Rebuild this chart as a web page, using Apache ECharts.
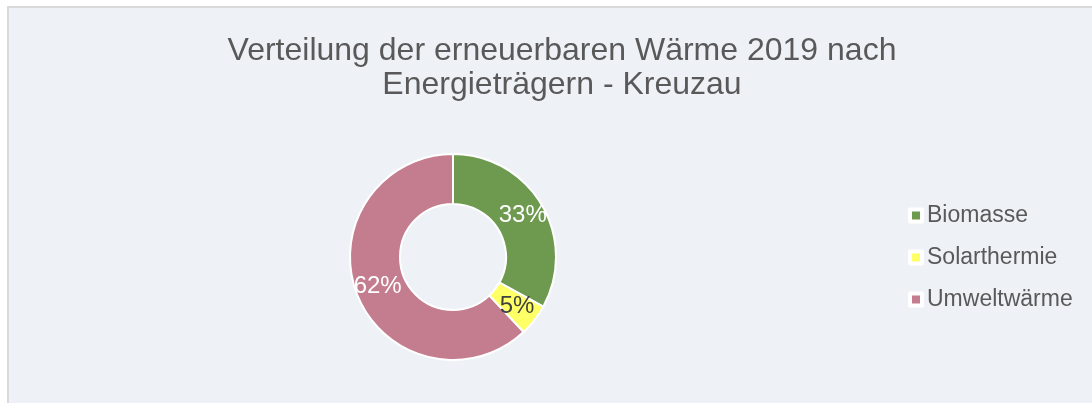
<!DOCTYPE html>
<html>
<head>
<meta charset="utf-8">
<style>
    html, body {margin:0;padding:0;background:#ffffff;}
    .frame {position:absolute;left:7px;top:6px;width:1100px;height:410px;background-color:#eef2f6;border-left:2px solid #d9d9d9;border-top:2px solid #d9d9d9;}
    #chart {position:absolute;left:-9px;top:-8px;width:1092px;height:403px;}
</style>
<script src="https://cdn.jsdelivr.net/npm/echarts@6/dist/echarts.min.js"></script>
</head>
<body>
<div class="frame"><div id="chart"></div></div>
<script>
    // Daten
    var categories = ['Biomasse', 'Solarthermie', 'Umweltwärme'];
    var shares = [33, 5, 62];
    var colors = ['#6d9a4f', '#ffff66', '#c47d8f'];
    var labelColors = ['#ffffff', '#404040', '#ffffff'];

    var chart = echarts.init(document.getElementById('chart'));

    var pieData = categories.map(function (name, i) {
        return {
            value: shares[i],
            name: name,
            itemStyle: {color: colors[i]},
            label: {color: labelColors[i]}
        };
    });

    var option = {
        backgroundColor: 'transparent',
        animation: false,
        title: {
            text: 'Verteilung der erneuerbaren Wärme 2019 nach\nEnergieträgern - Kreuzau',
            left: 557,
            textAlign: 'center',
            top: 29,
            textStyle: {
                fontFamily: 'Liberation Sans',
                fontSize: 32,
                fontWeight: 'normal',
                color: '#595959',
                lineHeight: 34
            }
        },
        legend: {
            orient: 'vertical',
            left: 903,
            top: 199,
            itemGap: 19,
            itemWidth: 12,
            itemHeight: 12,
            icon: 'rect',
            itemStyle: {borderColor: '#ffffff', borderWidth: 4},
            textStyle: {
                fontFamily: 'Liberation Sans',
                fontSize: 23,
                color: '#595959'
            },
            data: categories
        },
        series: [
            {
                type: 'pie',
                center: [453, 257],
                radius: [53, 103],
                startAngle: 90,
                clockwise: true,
                avoidLabelOverlap: false,
                itemStyle: {borderColor: '#ffffff', borderWidth: 2},
                label: {
                    show: true,
                    position: 'inside',
                    formatter: '{c}%',
                    fontFamily: 'Liberation Sans',
                    fontSize: 24
                },
                labelLine: {show: false},
                emphasis: {disabled: true},
                data: pieData
            }
        ]
    };
    chart.setOption(option);
</script>
</body>
</html>
